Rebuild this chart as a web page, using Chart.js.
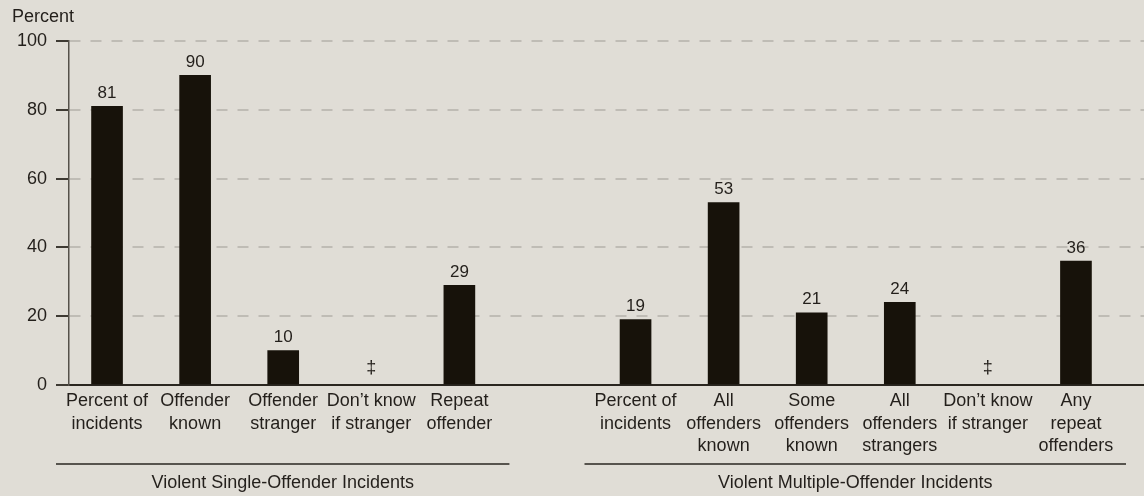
<!DOCTYPE html>
<html lang="en">
<head>
<meta charset="UTF-8">
<title>Violent incidents and offenders</title>
<style>
  html, body { margin: 0; padding: 0; background: #e0ddd6; }
  .chart-wrap { position: relative; width: 1144px; height: 496px; }
</style>
</head>
<body>
<div class="chart-wrap"><canvas id="incidentChart"></canvas></div>
<script src="https://cdn.jsdelivr.net/npm/chart.js@4.4.1/dist/chart.umd.min.js"></script>
<script>
// tick labels, '' is the gap between the two groups
const categories = [
  ['Percent of', 'incidents'],
  ['Offender', 'known'],
  ['Offender', 'stranger'],
  ['Don\u2019t know', 'if stranger'],
  ['Repeat', 'offender'],
  '',
  ['Percent of', 'incidents'],
  ['All', 'offenders', 'known'],
  ['Some', 'offenders', 'known'],
  ['All', 'offenders', 'strangers'],
  ['Don\u2019t know', 'if stranger'],
  ['Any', 'repeat', 'offenders']
];
const percentValues = [81, 90, 10, null, 29, null, 19, 53, 21, 24, null, 36];
const footnotes = ['', '', '', '\u2021', '', '', '', '', '', '', '\u2021', ''];
const yTicks = [0, 20, 40, 60, 80, 100];
const groupNames = ['Violent Single-Offender Incidents', 'Violent Multiple-Offender Incidents'];
const groupFirst = [0, 6];
const groupLast = [4, 11];

const TEXT = '#231f1b';
const FONT = '"Liberation Sans", Arial, sans-serif';
Chart.defaults.font.family = FONT;
Chart.defaults.font.size = 18;
Chart.defaults.color = TEXT;

const extras = {
  id: 'extras',
  beforeDraw(chart) {
    const ctx = chart.ctx;
    ctx.save();
    ctx.fillStyle = '#e0ddd6';
    ctx.fillRect(0, 0, chart.width, chart.height);
    ctx.restore();
  },
  afterLayout(chart) {
    // bars sit a little left of the axis grid in the original
    const x = chart.scales.x, a = chart.chartArea;
    x._startPixel = a.left - 6;
    x._endPixel = a.right - 24;
    x._length = x._endPixel - x._startPixel;
  },
  afterDatasetsDraw(chart) {
    const ctx = chart.ctx;
    const y0 = chart.scales.y.getPixelForValue(0);
    const bars = chart.getDatasetMeta(0).data;
    ctx.save();
    ctx.fillStyle = TEXT;
    ctx.textAlign = 'center';
    ctx.textBaseline = 'middle';
    bars.forEach((bar, i) => {
      const v = percentValues[i];
      if (v !== null) {
        ctx.font = '17px ' + FONT;
        ctx.fillText(String(v), bar.x, bar.y - 13);
      } else if (footnotes[i]) {
        ctx.font = '18px ' + FONT;
        ctx.fillText(footnotes[i], bar.x, y0 - 17);
      }
    });
    ctx.restore();
  },
  afterDraw(chart) {
    const ctx = chart.ctx;
    const x = chart.scales.x;
    const bottom = chart.chartArea.bottom;
    const slot = x._length / categories.length;
    ctx.save();
    ctx.fillStyle = TEXT;
    ctx.font = '18px ' + FONT;
    ctx.textBaseline = 'middle';
    ctx.textAlign = 'left';
    ctx.fillText('Percent', 12, 17);

    ctx.strokeStyle = '#2a2620';
    ctx.lineWidth = 1.5;
    ctx.textAlign = 'center';
    groupNames.forEach((name, g) => {
      const x1 = x.getPixelForValue(groupFirst[g]) - slot / 2 - 7;
      const x2 = x.getPixelForValue(groupLast[g]) + slot / 2 + 6;
      ctx.beginPath();
      ctx.moveTo(x1, bottom + 79);
      ctx.lineTo(x2, bottom + 79);
      ctx.stroke();
      ctx.fillText(name, (x1 + x2) / 2, bottom + 98);
    });
    ctx.restore();
  }
};

new Chart(document.getElementById('incidentChart'), {
  type: 'bar',
  data: {
    labels: categories,
    datasets: [{
      data: percentValues,
      backgroundColor: '#17120a',
      barThickness: 31
    }]
  },
  options: {
    responsive: true,
    maintainAspectRatio: false,
    animation: false,
    layout: { padding: { top: 41, left: 0, right: 0, bottom: 0 } },
    plugins: {
      legend: { display: false },
      tooltip: { enabled: false }
    },
    scales: {
      x: {
        offset: true,
        grid: { display: false, drawTicks: false },
        border: { display: true, color: '#2a2620', width: 2 },
        ticks: {
          autoSkip: false,
          maxRotation: 0,
          minRotation: 0,
          padding: 5,
          color: TEXT,
          font: { size: 18, lineHeight: 1.25 }
        },
        afterFit: s => { s.height = 111; }
      },
      y: {
        min: yTicks[0],
        max: yTicks[yTicks.length - 1],
        ticks: {
          stepSize: yTicks[1] - yTicks[0],
          padding: 9,
          color: TEXT,
          font: { size: 18 }
        },
        grid: {
          color: c => c.tick && c.tick.value === 0 ? 'rgba(0,0,0,0)' : '#bfbcb5',
          lineWidth: 2,
          tickColor: '#3e3a33',
          tickWidth: 2,
          tickLength: 13
        },
        border: { display: true, color: '#55514a', width: 1.5, dash: [11, 10] },
        afterFit: s => { s.width = 69; }
      }
    }
  },
  plugins: [extras]
});
</script>
</body>
</html>
